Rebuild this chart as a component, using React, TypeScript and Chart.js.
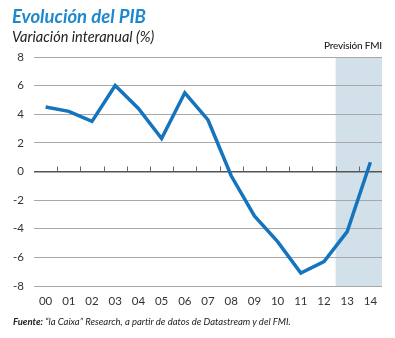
import React, { useEffect, useRef } from 'react';
import { Chart, registerables } from 'chart.js';

Chart.register(...registerables);

const years = ['00', '01', '02', '03', '04', '05', '06', '07', '08', '09', '10', '11', '12', '13', '14'];
const gdpGrowth = [4.5, 4.2, 3.5, 6.0, 4.4, 2.3, 5.5, 3.6, -0.3, -3.1, -4.9, -7.1, -6.3, -4.2, 0.65];
const forecastYears = ['13', '14'];
const yMin = -8;
const yMax = 8;
const yStep = 2;

const titleText = 'Evolución del PIB';
const subtitleText = 'Variación interanual (%)';
const forecastText = 'Previsión FMI';
const sourceLabel = 'Fuente:';
const sourceText = ' “la Caixa” Research, a partir de datos de Datastream y del FMI.';

const shadePlugin = {
  id: 'shade',
  beforeDraw(chart: any) {
    const x = chart.scales.x;
    const area = chart.chartArea;
    const first = years.indexOf(forecastYears[0]);
    const last = years.indexOf(forecastYears[forecastYears.length - 1]);
    const left = (x.getPixelForValue(first - 1) + x.getPixelForValue(first)) / 2;
    const right = last === years.length - 1 ? area.right : (x.getPixelForValue(last) + x.getPixelForValue(last + 1)) / 2;
    const ctx = chart.ctx;
    ctx.save();
    ctx.fillStyle = '#d2e0e9';
    ctx.fillRect(left, area.top, right - left, area.bottom - area.top);
    ctx.restore();
  },
};

const zeroTicksPlugin = {
  id: 'zeroTicks',
  beforeDatasetsDraw(chart: any) {
    const x = chart.scales.x;
    const y = chart.scales.y;
    const y0 = y.getPixelForValue(0);
    const ctx = chart.ctx;
    ctx.save();
    ctx.strokeStyle = '#666';
    ctx.lineWidth = 1;
    for (let i = 0; i < years.length - 1; i++) {
      const px = Math.round((x.getPixelForValue(i) + x.getPixelForValue(i + 1)) / 2) + 0.5;
      ctx.beginPath();
      ctx.moveTo(px, y0);
      ctx.lineTo(px, y0 - 5);
      ctx.stroke();
    }
    ctx.restore();
  },
};

export default function App() {
  const canvasRef = useRef<HTMLCanvasElement>(null);

  useEffect(() => {
    if (!canvasRef.current) return;
    const chart = new Chart(canvasRef.current, {
      type: 'line',
      data: {
        labels: years,
        datasets: [
          {
            data: gdpGrowth,
            borderColor: '#1474bd',
            borderWidth: 3.5,
            pointRadius: 0,
            tension: 0,
            fill: false,
            borderJoinStyle: 'miter',
          },
        ],
      },
      options: {
        responsive: false,
        animation: false,
        layout: { padding: { top: 57, right: 13, left: 0, bottom: 0 } },
        plugins: {
          legend: { display: false },
          tooltip: { enabled: false },
          title: { display: false },
        },
        scales: {
          x: {
            type: 'category',
            offset: true,
            grid: { display: false, drawTicks: false },
            border: { display: false },
            ticks: {
              color: '#333',
              font: { family: 'Lato', size: 11.5 },
              padding: 8,
              maxRotation: 0,
              autoSkip: false,
            },
            afterFit(scale: any) {
              scale.height = 52;
            },
          },
          y: {
            min: yMin,
            max: yMax,
            border: { display: false },
            grid: {
              drawTicks: false,
              color: (ctx: any) => (ctx.tick && ctx.tick.value === 0 ? '#555' : '#a8a8a8'),
              lineWidth: (ctx: any) => (ctx.tick && ctx.tick.value === 0 ? 1.5 : 1),
            },
            ticks: {
              stepSize: yStep,
              color: '#333',
              font: { family: 'Lato', size: 11.5 },
              padding: 10,
            },
            afterFit(scale: any) {
              scale.width = 34;
            },
          },
        },
      },
      plugins: [shadePlugin, zeroTicksPlugin],
    });
    return () => chart.destroy();
  }, []);

  return (
    <div style={{ position: 'absolute', left: 0, top: 0, width: 395, height: 338, background: '#fff', overflow: 'hidden' }}>
      <canvas ref={canvasRef} width={395} height={338} style={{ position: 'absolute', left: 0, top: 0, width: 395, height: 338 }} />
      <div style={{ position: 'absolute', left: 12, top: 5, fontFamily: 'Lato', fontWeight: 700, fontStyle: 'italic', fontSize: 18.5, color: '#1e88cf', whiteSpace: 'nowrap' }}>
        {titleText}
      </div>
      <div style={{ position: 'absolute', left: 12, top: 28, fontFamily: 'Lato', fontStyle: 'italic', fontSize: 14.5, color: '#222', whiteSpace: 'nowrap' }}>
        {subtitleText}
      </div>
      <div style={{ position: 'absolute', right: 13, top: 39, fontFamily: 'Lato', fontSize: 10, fontWeight: 500, color: '#222', whiteSpace: 'nowrap', letterSpacing: -0.2 }}>
        {forecastText}
      </div>
      <div style={{ position: 'absolute', left: 13, top: 316, fontFamily: 'Lato', fontStyle: 'italic', fontSize: 9.5, color: '#222', whiteSpace: 'nowrap' }}>
        <b>{sourceLabel}</b>
        {sourceText}
      </div>
    </div>
  );
}
